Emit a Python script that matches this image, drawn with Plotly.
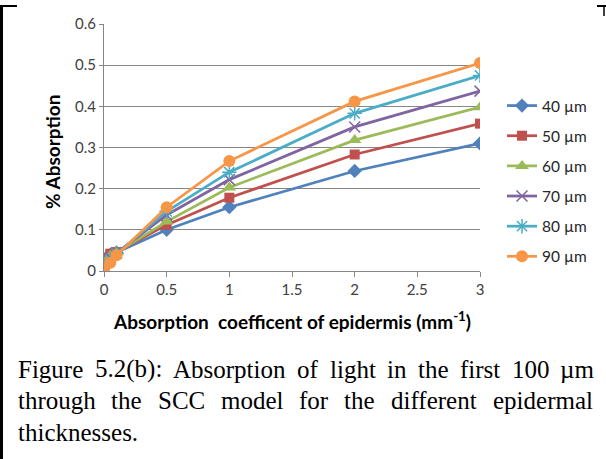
import plotly.graph_objects as go

# ---------------- data ----------------
x_vals = [0, 0.05, 0.1, 0.5, 1, 2, 3]
series_names = ["40 µm", "50 µm", "60 µm", "70 µm", "80 µm", "90 µm"]
s40 = [0.025, 0.040, 0.045, 0.100, 0.155, 0.243, 0.310]
s50 = [0.032, 0.042, 0.046, 0.112, 0.178, 0.283, 0.358]
s60 = [0.020, 0.037, 0.045, 0.120, 0.203, 0.318, 0.398]
s70 = [0.015, 0.033, 0.044, 0.136, 0.222, 0.350, 0.437]
s80 = [0.010, 0.028, 0.042, 0.145, 0.240, 0.383, 0.475]
s90 = [0.005, 0.020, 0.038, 0.155, 0.267, 0.412, 0.505]
x_ticks = [0, 0.5, 1, 1.5, 2, 2.5, 3]
x_tick_labels = ["0", "0.5", "1", "1.5", "2", "2.5", "3"]
y_ticks = [0, 0.1, 0.2, 0.3, 0.4, 0.5, 0.6]
y_tick_labels = ["0", "0.1", "0.2", "0.3", "0.4", "0.5", "0.6"]

series = [s40, s50, s60, s70, s80, s90]
colors = ["#4F81BD", "#C0504D", "#9BBB59", "#8064A2", "#4BACC6", "#F79646"]
symbols = ["diamond", "square", "triangle-up", "x-thin", "asterisk", "circle"]
msizes = [11, 10, 12, 11, 12, 12]

W, H = 606, 459
L, R, T, B = 104, 480, 24, 271  # plot area in pixels


def px(x):
    return (x - L) / (R - L)


def py(y):
    return (B - y) / (B - T)


fig = go.Figure()
for name, vals, c, sym, ms in zip(series_names, series, colors, symbols, msizes):
    thin = sym in ("x-thin", "asterisk")
    fig.add_trace(go.Scatter(
        x=x_vals, y=vals, name=name, mode="lines+markers",
        legendgroup=name,
        line=dict(color=c, width=2.75),
        marker=dict(symbol=sym, size=ms, color=c,
                    line=dict(color=c, width=1.5 if thin else 0)),
    ))

tick_font = dict(family="Lato, Open Sans, sans-serif", size=15, color="#404040")

fig.update_layout(
    width=W, height=H,
    margin=dict(l=L, r=W - R, t=T, b=H - B, pad=0),
    paper_bgcolor="white", plot_bgcolor="white",
    showlegend=True,
    legend=dict(x=px(502), y=py(89), xanchor="left", yanchor="top",
                font=dict(family="Lato, Open Sans, sans-serif", size=15.5, color="#262626"),
                tracegroupgap=7, bgcolor="rgba(0,0,0,0)"),
    xaxis=dict(range=[0, 3], tickvals=x_ticks, ticktext=x_tick_labels,
               showgrid=False, zeroline=False, showline=True, linecolor="#868686",
               linewidth=1, ticks="outside", ticklen=5, tickcolor="#868686",
               tickfont=tick_font, fixedrange=True),
    yaxis=dict(range=[0, 0.6], tickvals=y_ticks, ticktext=y_tick_labels,
               showgrid=True, gridcolor="#868686", gridwidth=1, zeroline=False,
               showline=True, linecolor="#868686", linewidth=1,
               ticks="outside", ticklen=4, tickcolor="#868686",
               tickfont=tick_font, fixedrange=True),
)

annotations = []
# axis titles
annotations.append(dict(
    x=px(292), y=py(320), xref="paper", yref="paper", showarrow=False,
    text="<b>Absorption  coefficent of epidermis (mm<sup>-1</sup>)</b>",
    font=dict(family="Lato, Open Sans, sans-serif", size=19, color="black"),
    xanchor="center", yanchor="middle"))
annotations.append(dict(
    x=px(52), y=py(152), xref="paper", yref="paper", showarrow=False,
    text="<b>% Absorption</b>", textangle=-90,
    font=dict(family="Lato, Open Sans, sans-serif", size=19, color="black"),
    xanchor="center", yanchor="middle"))

# caption, justified word by word
caption_lines = [
    "Figure 5.2(b): Absorption of light in the first 100 µm",
    "through the SCC model for the different epidermal",
    "thicknesses.",
]
tw = {"F": 556, "i": 278, "g": 500, "u": 500, "r": 333, "e": 444, "5": 500, ".": 250,
      "2": 500, "(": 333, "b": 500, ")": 333, ":": 278, "A": 722, "s": 389, "o": 500,
      "p": 500, "t": 278, "n": 500, "f": 333, "l": 278, "h": 500, "1": 500, "0": 500,
      "µ": 500, "m": 778, "c": 444, "k": 500, "d": 500, "S": 556, "C": 667, "a": 444}
cap_fs = 25
cap_left, cap_right = 18, 593
cap_y = [369, 401, 432]


def wwidth(w):
    return sum(tw.get(ch, 500) for ch in w) / 1000 * cap_fs


cap_font = dict(family="Liberation Serif, Times New Roman, serif", size=cap_fs, color="black")
for li, (line, yy) in enumerate(zip(caption_lines, cap_y)):
    words = line.split(" ")
    if li == len(caption_lines) - 1:
        annotations.append(dict(x=px(cap_left - 2), y=py(yy), xref="paper", yref="paper",
                                showarrow=False, text=line, font=cap_font,
                                xanchor="left", yanchor="middle"))
        continue
    widths = [wwidth(w) for w in words]
    gap = (cap_right - cap_left - sum(widths)) / (len(words) - 1)
    pos = cap_left
    for w, wd in zip(words, widths):
        annotations.append(dict(x=px(pos + wd / 2), y=py(yy), xref="paper", yref="paper",
                                showarrow=False, text=w, font=cap_font,
                                xanchor="center", yanchor="middle"))
        pos += wd + gap

fig.update_layout(annotations=annotations)

# frame lines (table border)
shapes = [
    dict(type="line", xref="paper", yref="paper", x0=px(1.5), x1=px(1.5), y0=py(6), y1=py(459),
         line=dict(color="black", width=3)),
    dict(type="line", xref="paper", yref="paper", x0=px(0), x1=px(17), y0=py(6), y1=py(6),
         line=dict(color="black", width=2)),
    dict(type="line", xref="paper", yref="paper", x0=px(597), x1=px(606), y0=py(6), y1=py(6),
         line=dict(color="black", width=2)),
    dict(type="line", xref="paper", yref="paper", x0=px(604), x1=px(604), y0=py(6), y1=py(16),
         line=dict(color="black", width=1.5)),
]
fig.update_layout(shapes=shapes)

fig.write_html("out.html", config={"displayModeBar": False},
               post_script="document.body.style.margin='0';document.body.style.overflow='hidden';")
